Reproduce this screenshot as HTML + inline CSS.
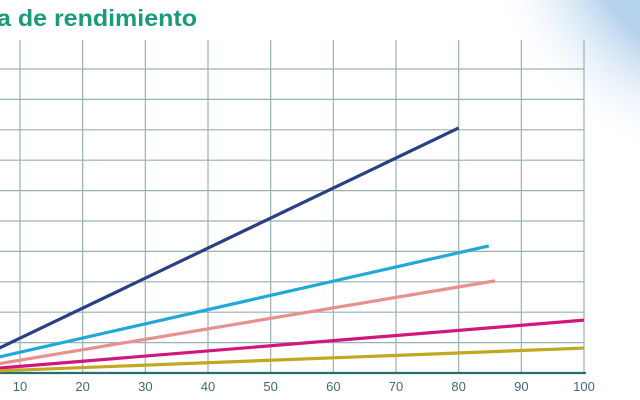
<!DOCTYPE html>
<html><head><meta charset="utf-8"><style>
html,body{margin:0;padding:0;background:#fff;overflow:hidden}
svg{display:block}
</style></head><body>
<svg id="chart" width="640" height="400" viewBox="0 0 640 400" xmlns="http://www.w3.org/2000/svg">
<defs>
<radialGradient id="sw" cx="720" cy="-70" r="240" gradientUnits="userSpaceOnUse">
<stop offset="0.55" stop-color="#6aa4dc" stop-opacity="0.5"/>
<stop offset="1" stop-color="#ffffff" stop-opacity="0"/>
</radialGradient>
</defs>
<rect x="400" y="0" width="240" height="220" fill="url(#sw)"/>
<text x="-3" y="26" font-family="Liberation Sans, sans-serif" font-weight="bold" font-size="23" fill="#1a9a7a" textLength="200" lengthAdjust="spacingAndGlyphs">a de rendimiento</text>
<g id="grid"></g>
<g id="series"></g>
<g id="labels"></g>
</svg>
<script>
const xTicks=[10,20,30,40,50,60,70,80,90,100];
const yGrid=[1,2,3,4,5,6,7,8,9,10];
const seriesNames=['navy','cyan','salmon','magenta','olive'];
const seriesColors=['#2a3f85','#22a8d8','#e8908e','#d0177e','#c0a820'];
const seriesX=[[6.5,80],[6.5,84.8],[6.5,85.8],[6.5,100],[6.5,100]];
const navyY=[0.8,8.06];
const cyanY=[0.52,4.18];
const salmonY=[0.3,3.03];
const magentaY=[0.16,1.74];
const oliveY=[0.07,0.82];
const seriesY=[navyY,cyanY,salmonY,magentaY,oliveY];
const ns='http://www.w3.org/2000/svg';
const xs=v=>20+(v-10)*(584-20)/90;
const ys=v=>373-v*30.4;
const grid=document.getElementById('grid');
const ser=document.getElementById('series');
const lab=document.getElementById('labels');
function mk(tag,attrs,parent){const e=document.createElementNS(ns,tag);for(const k in attrs)e.setAttribute(k,attrs[k]);parent.appendChild(e);return e;}
yGrid.forEach(v=>{
 const l=mk('line',{x1:0,x2:584,y1:ys(v),y2:ys(v),stroke:'#98b2b0','stroke-width':1.2},grid);
 
 
});
xTicks.forEach(v=>{
 const l=mk('line',{x1:xs(v),x2:xs(v),y1:40,y2:373,stroke:'#98b2b0','stroke-width':1.2},grid);
 
 
 const t=mk('text',{x:xs(v),y:391,'text-anchor':'middle','font-family':'Liberation Sans, sans-serif','font-size':13,fill:'#3d6a72'},lab);
 t.textContent=v;
 
 
});
const ax=mk('line',{x1:0,x2:586,y1:373,y2:373,stroke:'#2a6f70','stroke-width':2.2},grid);


seriesNames.forEach((n,i)=>{
 const xv=seriesX[i],yv=seriesY[i];
 const l=mk('line',{x1:xs(xv[0]),y1:ys(yv[0]),x2:xs(xv[1]),y2:ys(yv[1]),stroke:seriesColors[i],'stroke-width':3.2},ser);
 
 
});
</script>
</body></html>
